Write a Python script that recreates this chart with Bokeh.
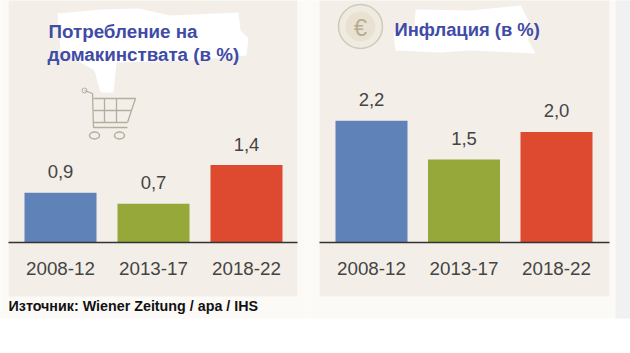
from bokeh.plotting import figure
from bokeh.layouts import row
from bokeh.models import Range1d, FixedTicker, ColumnDataSource
from bokeh.core.properties import value
from bokeh.embed import file_html
from bokeh.resources import INLINE

periods = ["2008-12", "2013-17", "2018-22"]
consumption = [0.9, 0.7, 1.4]
inflation = [2.2, 1.5, 2.0]
bar_colors = ["#5f82b8", "#95a839", "#dd4a30"]
title_left = ["Потребление на", "домакинствата (в %)"]
title_right = ["Инфлация (в %)"]
source_note = "Източник: Wiener Zeitung / apa / IHS"

H = 337
BASE = 242.0
PX_PER_UNIT = 55.3
SANS = "Liberation Sans"
PANEL = "#f3efe8"
FAINT = "#fbfaf7"
ICON = "#b5ad9f"
TEXT = "#444444"
BLUE = "#3f4ba6"


def make_panel(width, first_center, spacing, values, panel_l, panel_r):
    xr = Range1d(-first_center / spacing, (width - first_center) / spacing)
    yr = Range1d((BASE - H) / PX_PER_UNIT, BASE / PX_PER_UNIT)
    p = figure(width=width, height=H, x_range=xr, y_range=yr, toolbar_location=None,
               output_backend="svg", min_border=0, outline_line_color=None,
               background_fill_color="white", border_fill_color="white")
    X = lambda px: (px - first_center) / spacing
    Y = lambda py: (BASE - py) / PX_PER_UNIT
    p.grid.visible = False
    p.yaxis.visible = False

    p.quad(left=[X(-10)], right=[X(width + 10)], top=[Y(-10)], bottom=[Y(318)],
           fill_color=FAINT, line_color=None)
    p.quad(left=[X(panel_l)], right=[X(panel_r)], top=[Y(-10)], bottom=[Y(296)],
           fill_color=PANEL, line_color=None)

    idx = list(range(len(values)))
    src = ColumnDataSource(dict(x=idx, v=values, c=bar_colors,
                                t=[f"{v:.1f}".replace(".", ",") for v in values]))
    p.vbar(x="x", top="v", bottom=0, width=72 / spacing, fill_color="c", line_color=None, source=src)
    p.text(x="x", y="v", text="t", source=src, text_align="center", text_baseline="middle",
           y_offset=-21, text_font=value(SANS), text_font_size="18.5px", text_color=TEXT)

    ax = p.xaxis[0]
    ax.fixed_location = 0
    ax.bounds = (X(panel_l), X(panel_r))
    ax.ticker = FixedTicker(ticks=idx)
    ax.major_label_overrides = dict(zip(idx, periods))
    ax.major_label_standoff = 13
    ax.major_label_text_font = SANS
    ax.major_label_text_font_size = "18.8px"
    ax.major_label_text_color = TEXT
    ax.major_tick_line_color = None
    ax.minor_tick_line_color = None
    ax.axis_line_color = "#333333"
    ax.axis_line_width = 1.5
    return p, X, Y


# ---- left panel
p1, X, Y = make_panel(309, 60, 93, consumption, 8, 297)
blob1 = [(57, 13), (100, 9), (138, 8), (170, 15), (238, 12), (240, 30), (248, 38), (246, 55),
         (190, 60), (116, 62), (113, 92), (100, 92), (94, 70), (60, 50)]
p1.patch([X(a) for a, _ in blob1], [Y(b) for _, b in blob1], fill_color="white", line_color=None)
# shopping cart icon
p1.multi_line(
    [[X(84), X(92), X(93), X(127)], [X(93), X(135), X(127)],
     [X(104), X(104)], [X(116), X(116)], [X(93), X(131)]],
    [[Y(90), Y(93), Y(127), Y(127)], [Y(98), Y(98), Y(122)],
     [Y(98), Y(122)], [Y(98), Y(122)], [Y(110), Y(110)]],
    line_color=ICON, line_width=1.3)
p1.line([X(93), X(127)], [Y(122), Y(122)], line_color=ICON, line_width=1.3)
p1.ellipse([X(94), X(119)], [Y(135), Y(135)], width=10 / 93, height=7 / PX_PER_UNIT,
           fill_color=None, line_color=ICON, line_width=1.5)
p1.circle([X(84)], [Y(90)], radius=2.5 / 93, fill_color=None, line_color=ICON)
p1.text([X(48), X(47)], [Y(31), Y(54)], text=title_left, text_baseline="middle",
        text_font=value(SANS), text_font_style="bold", text_font_size="18.8px", text_color=BLUE)
p1.text([X(8)], [Y(305)], text=[source_note], text_baseline="middle",
        text_font=value(SANS), text_font_style="bold", text_font_size="14.3px", text_color="#111111")

# ---- right panel (canvas starts at page x = 309)
p2, X2, Y2 = make_panel(321, 371 - 309, 92.5, inflation, 319 - 309, 609 - 309)
O = 309
p2.quad(left=[X2(615 - O)], right=[X2(640 - O)], top=[Y2(-10)], bottom=[Y2(318)],
        fill_color="#f1f1f1", line_color=None)
blob2 = [(415, 9), (470, 10), (520, 5), (528, 20), (528, 40), (535, 53), (470, 50),
         (440, 52), (395, 50), (393, 32), (414, 28)]
p2.patch([X2(a - O) for a, _ in blob2], [Y2(b) for _, b in blob2], fill_color="white", line_color=None)
p2.ellipse([X2(360 - O)], [Y2(26)], width=44 / 92.5, height=44 / PX_PER_UNIT,
           fill_color="#f0ebe0", line_color="#cfc9bb", line_width=1.5)
p2.ellipse([X2(360 - O)], [Y2(26)], width=30 / 92.5, height=30 / PX_PER_UNIT,
           fill_color="#e9e2d3", line_color=None)
p2.text([X2(360 - O)], [Y2(27)], text=["€"], text_align="center", text_baseline="middle",
        text_font=value(SANS), text_font_size="24px", text_color="#b8ad90")
p2.text([X2(394 - O)], [Y2(29)], text=title_right, text_baseline="middle",
        text_font=value(SANS), text_font_style="bold", text_font_size="18.4px", text_color=BLUE)

layout = row(p1, p2, spacing=0)
open("out.html", "w").write(file_html(layout, INLINE))
